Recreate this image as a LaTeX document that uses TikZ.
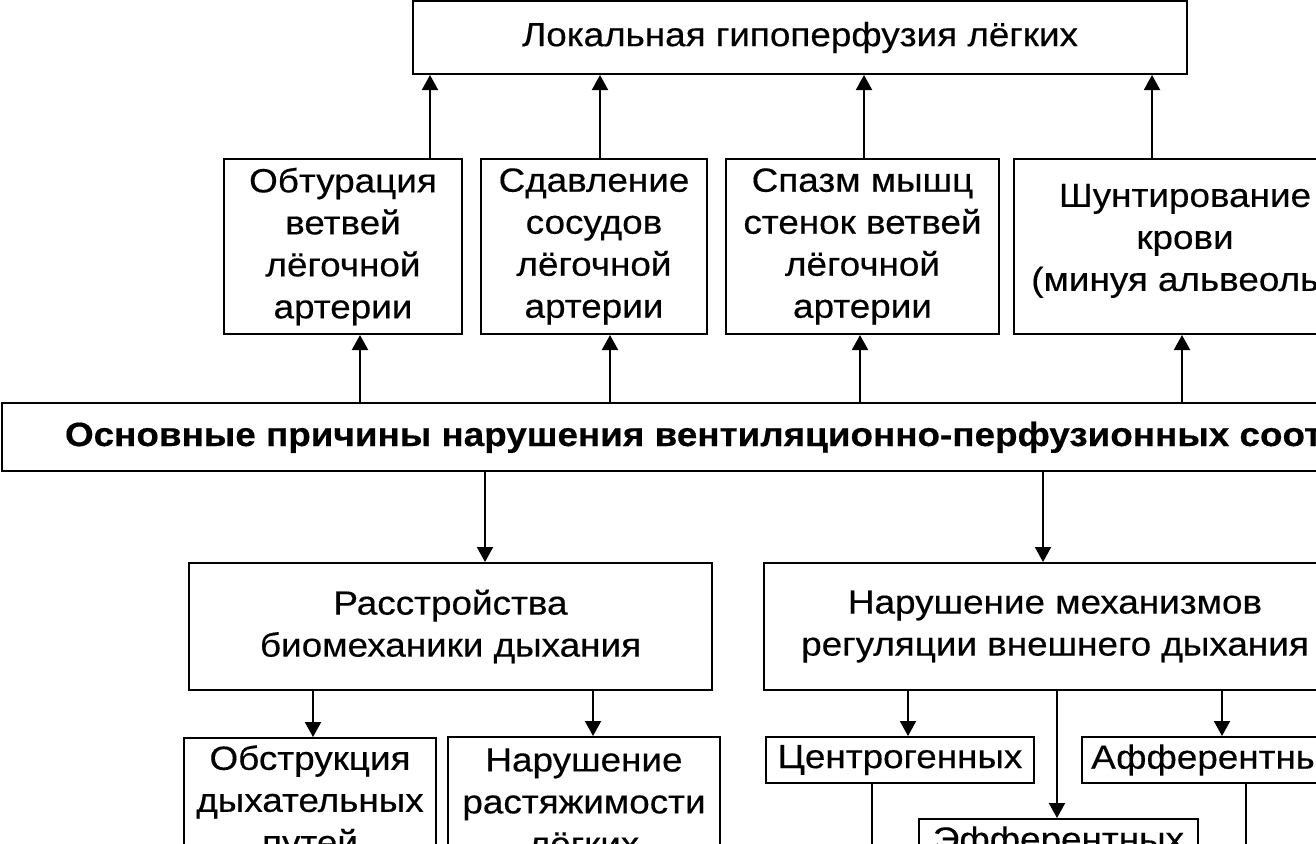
\documentclass[tikz,border=0pt]{standalone}
\usepackage{fontspec}
\setmainfont[FakeStretch=1.1, FakeBold=0.4, BoldFeatures={FakeBold=0.4}]{Liberation Sans}
\usetikzlibrary{arrows.meta}
\tikzstyle{caixa}=[rectangle, draw=black, line width=1pt, align=center, inner sep=0pt]

\begin{document}
\begin{tikzpicture}[line width=1pt, ->, >={Triangle[length=7.5pt, width=8pt]}, x=0.5pt, y=-0.5pt, font=\fontsize{16.75}{21}\selectfont]
	\useasboundingbox (0,0) rectangle (1316,843);
	\clip (0,0) rectangle (1316,843);
	\node[caixa, minimum width=387pt, minimum height=36.5pt] (topo) at (800,37.5) {Локальная гипоперфузия лёгких};
	\node[caixa, minimum width=119pt, minimum height=87.5pt] (obt) at (343,246.5) {Обтурация\\ветвей\\лёгочной\\артерии};
	\node[caixa, minimum width=113pt, minimum height=87.5pt] (sdav) at (594,246.5) {Сдавление\\сосудов\\лёгочной\\артерии};
	\node[caixa, minimum width=136.5pt, minimum height=87.5pt] (spazm) at (862.5,246.5) {Спазм мышц\\стенок ветвей\\лёгочной\\артерии};
	\node[caixa, minimum width=171pt, minimum height=87.5pt] (shunt) at (1185,246.5) {\raisebox{3pt}[\height][\depth]{\begin{tabular}{@{}c@{}}Шунтирование\\крови\\(минуя альвеолы)\end{tabular}}};
	\node[caixa, anchor=west, inner xsep=31.5pt, minimum height=34pt, font=\fontsize{16.75}{21}\selectfont\bfseries] (causas) at (1,437) {Основные причины нарушения вентиляционно-перфузионных соотношений};
	\node[caixa, minimum width=261.5pt, minimum height=63.5pt] (bio) at (450.5,626.5) {Расстройства\\биомеханики дыхания};
	\node[caixa, minimum width=291pt, minimum height=63.5pt] (reg) at (1055,626.5) {Нарушение механизмов\\регуляции внешнего дыхания};
	\node[caixa, minimum width=126pt, minimum height=65pt] (obstr) at (310,803) {Обструкция\\дыхательных\\путей};
	\node[caixa, minimum width=136pt, minimum height=65pt] (rast) at (584,802) {Нарушение\\растяжимости\\лёгких};
	\node[caixa, minimum width=134pt, minimum height=23pt] (centr) at (900,760) {Центрогенных};
	\node[caixa, minimum width=134pt, minimum height=23pt] (aff) at (1216,760) {Афферентных};
	\node[caixa, minimum width=139.5pt, minimum height=23pt] (eff) at (1058.5,842) {Эфферентных};
	\coordinate (c1) at (872,900);
	\coordinate (c2) at (1246,900);
	\draw (430,0 |- obt.north) -- (430,0 |- topo.south);
	\draw (600,0 |- sdav.north) -- (600,0 |- topo.south);
	\draw (864,0 |- spazm.north) -- (864,0 |- topo.south);
	\draw (1152,0 |- shunt.north) -- (1152,0 |- topo.south);
	\draw (360,0 |- causas.north) -- (360,0 |- obt.south);
	\draw (610,0 |- causas.north) -- (610,0 |- sdav.south);
	\draw (860,0 |- causas.north) -- (860,0 |- spazm.south);
	\draw (1182,0 |- causas.north) -- (1182,0 |- shunt.south);
	\draw (485,0 |- causas.south) -- (485,0 |- bio.north);
	\draw (1043,0 |- causas.south) -- (1043,0 |- reg.north);
	\draw (313,0 |- bio.south) -- (313,0 |- obstr.north);
	\draw (593,0 |- bio.south) -- (593,0 |- rast.north);
	\draw (908,0 |- reg.south) -- (908,0 |- centr.north);
	\draw (1057,0 |- reg.south) -- (1057,0 |- eff.north);
	\draw (1222,0 |- reg.south) -- (1222,0 |- aff.north);
	\draw[-] (c1 |- centr.south) -- (c1);
	\draw[-] (c2 |- aff.south) -- (c2);
\end{tikzpicture}
\end{document}
